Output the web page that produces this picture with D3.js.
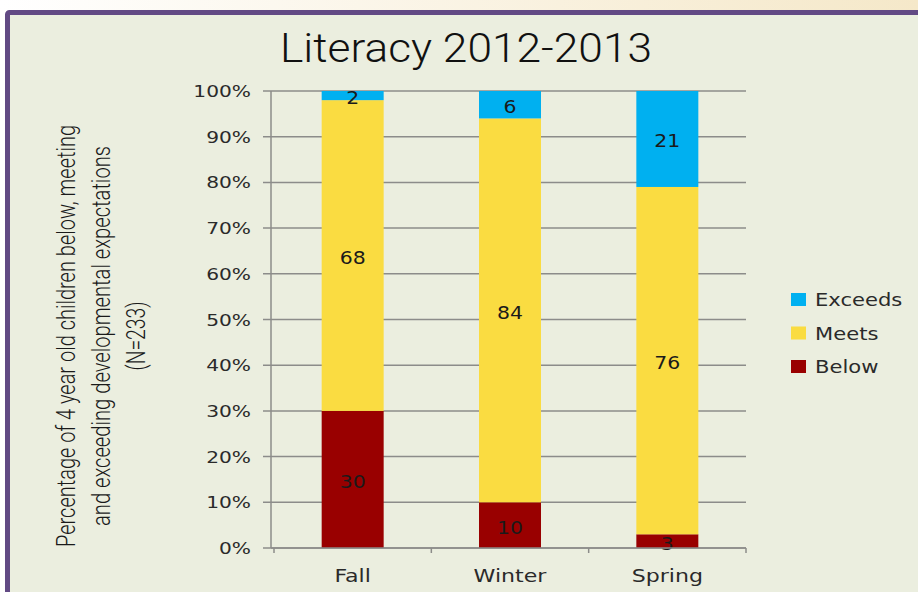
<!DOCTYPE html>
<html>
<head>
<meta charset="utf-8">
<script src="https://cdn.jsdelivr.net/npm/d3@7"></script>
<style>
  body { margin: 0; padding: 0; overflow: hidden; }
  svg { display: block; }
</style>
</head>
<body>
<svg id="chart" width="918" height="592"></svg>
<script>
// data
var seasons = ["Fall", "Winter", "Spring"];
var below = [30, 10, 3];
var meets = [68, 84, 76];
var exceeds = [2, 6, 21];
var seriesNames = ["Below", "Meets", "Exceeds"];
var seriesColors = ["#990000", "#fadc41", "#00b0f0"];
var yTicks = [0, 10, 20, 30, 40, 50, 60, 70, 80, 90, 100];

var svg = d3.select("#chart");

// page background + frame
var defs = svg.append("defs");
var grad = defs.append("linearGradient").attr("id", "topfade");
grad.append("stop").attr("offset", "0%").attr("stop-color", "#ffffff");
grad.append("stop").attr("offset", "100%").attr("stop-color", "#f5e8c9");
svg.append("rect").attr("width", 918).attr("height", 592).attr("fill", "url(#topfade)");
svg.append("rect")
    .attr("x", 7.5).attr("y", 12.5)
    .attr("width", 930).attr("height", 600)
    .attr("rx", 2)
    .attr("fill", "#ebeedf")
    .attr("stroke", "#624a84")
    .attr("stroke-width", 5);

var margin = {top: 91, right: 172, bottom: 44, left: 271};
var width = 918 - margin.left - margin.right,
    height = 592 - margin.top - margin.bottom;

var g = svg.append("g").attr("transform", "translate(" + margin.left + "," + margin.top + ")");

var x = d3.scaleBand().domain(seasons).range([3, width]).paddingInner(0.606).paddingOuter(0.303);
var xTick = d3.scaleBand().domain(seasons).range([3, width]);
var y = d3.scaleLinear().domain([0, 100]).range([height, 0]);

// widen text the way the original wide font looks
function widen(sel, k) {
  sel.each(function() {
    var w = this.getComputedTextLength();
    d3.select(this).attr("textLength", w * k).attr("lengthAdjust", "spacingAndGlyphs");
  });
}

// gridlines
g.append("g").selectAll("line")
    .data(yTicks)
  .enter().append("line")
    .attr("x1", -8).attr("x2", width)
    .attr("y1", function(d) { return y(d); })
    .attr("y2", function(d) { return y(d); })
    .style("stroke", "#8c8c8a")
    .style("stroke-width", 1.5);

// y labels
g.append("g").selectAll("text")
    .data(yTicks)
  .enter().append("text")
    .attr("x", -20)
    .attr("y", function(d) { return y(d); })
    .attr("dy", "0.38em")
    .attr("text-anchor", "end")
    .style("font-family", "DejaVu Sans")
    .style("font-size", "16px")
    .style("fill", "#2a2a2a")
    .text(function(d) { return d + "%"; })
    .call(widen, 1.26);

// stacked data
var table = seasons.map(function(s, i) {
  return {season: s, Below: below[i], Meets: meets[i], Exceeds: exceeds[i]};
});
var stack = d3.stack().keys(seriesNames)(table);

var layers = g.selectAll(".layer")
    .data(stack)
  .enter().append("g")
    .attr("class", "layer")
    .style("fill", function(d, i) { return seriesColors[i]; });

layers.selectAll("rect")
    .data(function(d) { return d; })
  .enter().append("rect")
    .attr("x", function(d) { return x(d.data.season); })
    .attr("width", x.bandwidth())
    .attr("y", function(d) { return y(d[1]); })
    .attr("height", function(d) { return y(d[0]) - y(d[1]); });

layers.selectAll("text")
    .data(function(d) { return d; })
  .enter().append("text")
    .attr("x", function(d) { return x(d.data.season) + x.bandwidth() / 2; })
    .attr("y", function(d) { return (y(d[0]) + y(d[1])) / 2; })
    .attr("dy", "0.5em")
    .attr("text-anchor", "middle")
    .style("font-family", "DejaVu Sans")
    .style("font-size", "17px")
    .style("fill", "#1a1a1a")
    .text(function(d) { return d[1] - d[0]; })
    .call(widen, 1.2);

// y axis line
g.append("line")
    .attr("x1", 0).attr("x2", 0).attr("y1", 0).attr("y2", height)
    .style("stroke", "#8c8c8a").style("stroke-width", 1.5);

// x axis
var xAxis = g.append("g").attr("transform", "translate(0," + height + ")");
xAxis.append("line").attr("x1", 0).attr("x2", width)
    .style("stroke", "#8c8c8a").style("stroke-width", 1.5);
var bounds = [3].concat(seasons.map(function(s) { return xTick(s) + xTick.bandwidth(); }));
xAxis.selectAll(".tk")
    .data(bounds)
  .enter().append("line")
    .attr("x1", function(d) { return d; }).attr("x2", function(d) { return d; })
    .attr("y1", 0).attr("y2", 5)
    .style("stroke", "#8c8c8a").style("stroke-width", 1.5);
xAxis.selectAll("text")
    .data(seasons)
  .enter().append("text")
    .attr("x", function(d) { return xTick(d) + xTick.bandwidth() / 2; })
    .attr("y", 34)
    .attr("text-anchor", "middle")
    .style("font-family", "DejaVu Sans")
    .style("font-size", "17px")
    .style("fill", "#2a2a2a")
    .text(function(d) { return d; })
    .call(widen, 1.3);

// title
svg.append("text")
    .attr("x", 466).attr("y", 62)
    .attr("text-anchor", "middle")
    .attr("textLength", 372)
    .attr("lengthAdjust", "spacingAndGlyphs")
    .style("font-family", "Roboto, Liberation Sans Narrow")
    .style("font-weight", 300)
    .style("font-size", "40px")
    .style("fill", "#111")
    .text("Literacy 2012-2013");

// y axis title
var yTitle = [
  {t: "Percentage of 4 year old children below, meeting", x: 66, len: 422},
  {t: "and exceeding developmental expectations", x: 101, len: 380},
  {t: "(N=233)", x: 136, len: 69}
];
svg.append("g").selectAll("text")
    .data(yTitle)
  .enter().append("text")
    .attr("transform", function(d) { return "translate(" + (d.x + 9) + ",336) rotate(-90)"; })
    .attr("text-anchor", "middle")
    .attr("textLength", function(d) { return d.len; })
    .attr("lengthAdjust", "spacingAndGlyphs")
    .style("font-family", "Roboto, Liberation Sans Narrow")
    .style("font-weight", 300)
    .style("font-size", "25px")
    .style("fill", "#1a1a1a")
    .text(function(d) { return d.t; });

// legend
var legend = svg.append("g").attr("transform", "translate(791,293)");
var legItems = seriesNames.slice().reverse();
var legColors = seriesColors.slice().reverse();
var li = legend.selectAll("g")
    .data(legItems)
  .enter().append("g")
    .attr("transform", function(d, i) { return "translate(0," + (i * 33.5) + ")"; });
li.append("rect")
    .attr("width", 15).attr("height", 13)
    .style("fill", function(d, i) { return legColors[i]; });
li.append("text")
    .attr("x", 24).attr("y", 7)
    .attr("dy", "0.36em")
    .style("font-family", "DejaVu Sans")
    .style("font-size", "17px")
    .style("fill", "#2a2a2a")
    .text(function(d) { return d; })
    .call(widen, 1.24);
</script>
</body>
</html>
